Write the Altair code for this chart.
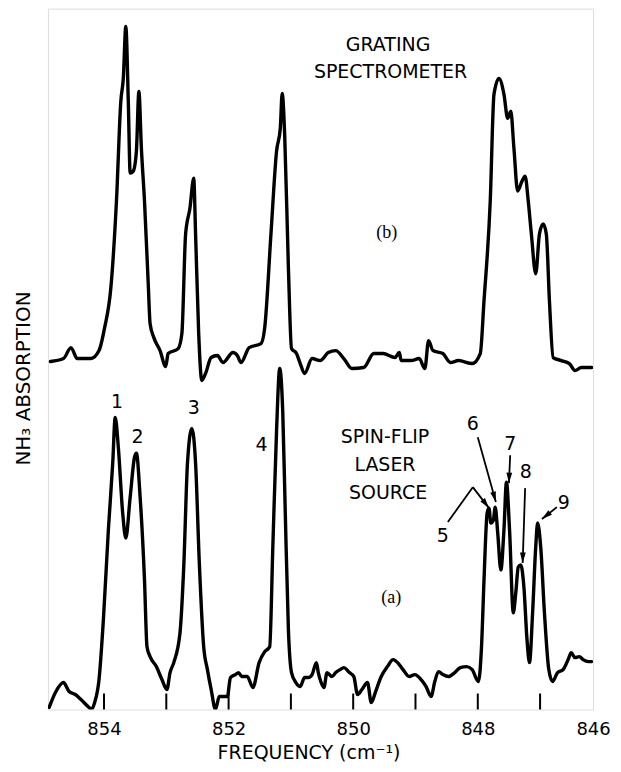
import altair as alt
import pandas as pd

# ---- trace (b): grating spectrometer (upper) ----
freq_b = [854.86, 854.65, 854.53, 854.43, 854.21, 854.08, 853.99, 853.89, 853.80, 853.73,
          853.69, 853.65, 853.61, 853.58, 853.53, 853.48, 853.44, 853.40, 853.35, 853.29,
          853.26, 853.20, 853.10, 853.01, 852.97, 852.81, 852.75, 852.69, 852.62, 852.56,
          852.53, 852.48, 852.43, 852.37, 852.28, 852.18, 852.09, 851.93, 851.86, 851.80,
          851.67, 851.48, 851.42, 851.32, 851.23, 851.17, 851.14, 851.10, 851.04, 850.99,
          850.91, 850.85, 850.78, 850.66, 850.53, 850.40, 850.28, 850.15, 850.02, 849.83,
          849.67, 849.52, 849.33, 849.26, 849.23, 849.07, 848.94, 848.85, 848.79, 848.72,
          848.56, 848.44, 848.31, 848.09, 847.96, 847.90, 847.80, 847.74, 847.66, 847.58,
          847.52, 847.47, 847.42, 847.36, 847.29, 847.24, 847.19, 847.14, 847.07, 847.01,
          846.95, 846.90, 846.85, 846.79, 846.66, 846.53, 846.44, 846.34, 846.17]
abs_b = [349, 352, 363, 352, 352, 360, 383, 423, 510, 610,
         633, 685, 610, 538, 540, 560, 620, 563, 510, 427,
         387, 373, 360, 344, 357, 362, 377, 477, 503, 533,
         477, 377, 330, 337, 353, 355, 348, 358, 355, 348,
         363, 367, 383, 477, 560, 583, 618, 577, 443, 362,
         357, 347, 337, 352, 350, 358, 360, 352, 342, 343,
         357, 357, 353, 358, 350, 350, 352, 342, 370, 360,
         357, 348, 350, 347, 357, 410, 510, 617, 633, 617,
         593, 600, 563, 520, 530, 535, 510, 477, 437, 477,
         487, 477, 410, 353, 350, 347, 340, 343, 343]

# ---- trace (a): spin-flip laser source (lower) ----
freq_a = [854.88, 854.78, 854.65, 854.56, 854.46, 854.37, 854.24, 854.20, 854.15, 854.08,
          854.01, 853.93, 853.86, 853.82, 853.77, 853.70, 853.65, 853.58, 853.51, 853.48,
          853.42, 853.35, 853.31, 853.26, 853.16, 853.07, 852.99, 852.94, 852.88, 852.78,
          852.72, 852.66, 852.59, 852.53, 852.47, 852.40, 852.34, 852.28, 852.21, 852.15,
          852.02, 851.97, 851.89, 851.84, 851.79, 851.70, 851.61, 851.51, 851.42, 851.34,
          851.29, 851.23, 851.18, 851.13, 851.09, 851.04, 850.99, 850.92, 850.85, 850.78,
          850.72, 850.66, 850.59, 850.56, 850.52, 850.47, 850.42, 850.34, 850.28, 850.21,
          850.15, 850.06, 849.99, 849.93, 849.86, 849.77, 849.71, 849.64, 849.55, 849.45,
          849.36, 849.26, 849.20, 849.10, 849.01, 848.91, 848.83, 848.75, 848.69, 848.63,
          848.56, 848.47, 848.37, 848.28, 848.18, 848.09, 847.99, 847.94, 847.90, 847.85,
          847.82, 847.79, 847.75, 847.72, 847.68, 847.63, 847.58, 847.54, 847.49, 847.43,
          847.39, 847.35, 847.31, 847.26, 847.21, 847.17, 847.12, 847.07, 847.04, 846.99,
          846.93, 846.86, 846.80, 846.72, 846.63, 846.55, 846.50, 846.44, 846.37, 846.31,
          846.22, 846.17]
abs_a = [2, 17, 27, 18, 15, 10, 2, 0, 7, 30,
         90, 180, 247, 293, 263, 197, 172, 213, 253, 257,
         213, 130, 63, 53, 43, 30, 20, 37, 47, 77,
         143, 247, 282, 247, 147, 63, 40, 20, 0, 13,
         13, 32, 35, 37, 33, 33, 22, 47, 58, 63,
         163, 280, 342, 297, 197, 80, 37, 27, 23, 32,
         32, 35, 47, 37, 28, 22, 37, 33, 37, 40,
         42, 37, 33, 15, 20, 27, 7, 18, 33, 43,
         50, 45, 40, 33, 35, 30, 23, 13, 28, 38,
         35, 33, 37, 42, 43, 40, 28, 63, 130, 197,
         202, 187, 190, 203, 177, 140, 180, 228, 180, 97,
         117, 143, 145, 123, 70, 47, 97, 163, 187, 163,
         97, 40, 28, 37, 40, 50, 57, 52, 53, 50,
         48, 48]

# ---- axis ----
tick_values = [854, 853, 852, 851, 850, 849, 848, 847]
label_values = [854, 852, 850, 848, 846.15]

# ---- annotations ----
word_text = ["GRATING", "SPECTROMETER", "SPIN-FLIP", "LASER", "SOURCE"]
word_x = [849.44, 849.40, 849.49, 849.49, 849.44]
word_y = [667, 639, 273, 245, 217]

panel_text = ["(b)", "(a)"]
panel_x = [849.46, 849.39]
panel_y = [478, 112]

num_text = ["1", "2", "3", "4", "5", "6", "7", "8", "9"]
num_x = [853.79, 853.46, 852.56, 851.47, 848.56, 848.08, 847.48, 847.23, 846.62]
num_y = [308, 273, 302, 265, 174, 286, 266, 238, 207]

arrow_x1 = [848.48, 848.08, 848.00, 847.48, 847.24, 846.73]
arrow_y1 = [188, 223, 273, 255, 222, 203]
arrow_x2 = [848.08, 847.82, 847.71, 847.50, 847.28, 846.97]
arrow_y2 = [223, 202, 208, 227, 147, 191]
head_x = [847.82, 847.71, 847.50, 847.28, 846.97]
head_y = [202, 208, 227, 147, 191]
head_angle = [142.7, 164.5, 182.0, 181.5, 231.3]

# ---- data frames ----
traces = pd.concat([
    pd.DataFrame({"f": freq_b, "v": abs_b, "trace": "b", "i": range(len(freq_b))}),
    pd.DataFrame({"f": freq_a, "v": abs_a, "trace": "a", "i": range(len(freq_a))}),
])
ticks_df = pd.DataFrame({"f": tick_values, "v": 0, "v2": 16})
words_df = pd.DataFrame({"f": word_x, "v": word_y, "t": word_text})
panel_df = pd.DataFrame({"f": panel_x, "v": panel_y, "t": panel_text})
num_df = pd.DataFrame({"f": num_x, "v": num_y, "t": num_text})
arrow_df = pd.DataFrame({"f": arrow_x1, "v": arrow_y1, "f2": arrow_x2, "v2": arrow_y2})
head_df = pd.DataFrame({"f": head_x, "v": head_y, "ang": head_angle})

W, H = 546, 702
xscale = alt.Scale(domain=[846.15, 854.9], reverse=True, nice=False, zero=False)
yscale = alt.Scale(domain=[0, 703], nice=False, zero=False)

x_axis = alt.Axis(
    values=label_values,
    labelExpr="datum.value < 846.5 ? '846' : datum.label",
    ticks=False, domain=False, grid=False, labelFlush=False,
    labelPadding=11, labelFontSize=18, labelFont="DejaVu Sans", labelColor="black",
    title="FREQUENCY (cm⁻¹)", titleFont="DejaVu Sans", titleFontSize=19,
    titleFontWeight="normal", titleColor="black", titlePadding=5, titleX=261,
)
y_axis = alt.Axis(
    labels=False, ticks=False, domain=False, grid=False,
    title="NH₃ ABSORPTION", titleFont="DejaVu Sans", titleFontSize=20,
    titleFontWeight="normal", titleColor="black", titlePadding=14, titleY=370,
)

X = alt.X("f:Q", scale=xscale, axis=x_axis)
Y = alt.Y("v:Q", scale=yscale, axis=y_axis)

lines = alt.Chart(traces).mark_line(
    color="black", strokeWidth=3.4, strokeJoin="round", strokeCap="round",
    clip=True, interpolate="monotone"
).encode(x=X, y=Y, detail="trace:N", order="i:Q")

tick_rules = alt.Chart(ticks_df).mark_rule(color="black", strokeWidth=2).encode(
    x=X, y=Y, y2="v2:Q")

words = alt.Chart(words_df).mark_text(
    font="DejaVu Sans", fontSize=19, color="black", align="center", baseline="middle"
).encode(x=X, y=Y, text="t:N")

panels = alt.Chart(panel_df).mark_text(
    font="Liberation Serif", fontSize=18, color="black", align="center", baseline="middle"
).encode(x=X, y=Y, text="t:N")

nums = alt.Chart(num_df).mark_text(
    font="DejaVu Sans", fontSize=19, color="black", align="center", baseline="middle"
).encode(x=X, y=Y, text="t:N")

arrows = alt.Chart(arrow_df).mark_rule(color="black", strokeWidth=1.8).encode(
    x=X, y=Y, x2="f2:Q", y2="v2:Q")

heads = alt.Chart(head_df).mark_point(
    shape="M0,0 L0.55,2 L-0.55,2 Z", size=110, filled=True, color="black", opacity=1
).encode(x=X, y=Y, angle=alt.Angle("ang:Q", scale=None))

chart = alt.layer(lines, tick_rules, arrows, heads, words, panels, nums).properties(
    width=W, height=H,
    autosize=alt.AutoSizeParams(type="none"),
    padding={"left": 40, "top": 0, "right": 20, "bottom": 56},
).configure_view(stroke="black", strokeWidth=2.5).configure(background="white")

chart.save("out.html", embed_options={"renderer": "svg", "actions": False})
